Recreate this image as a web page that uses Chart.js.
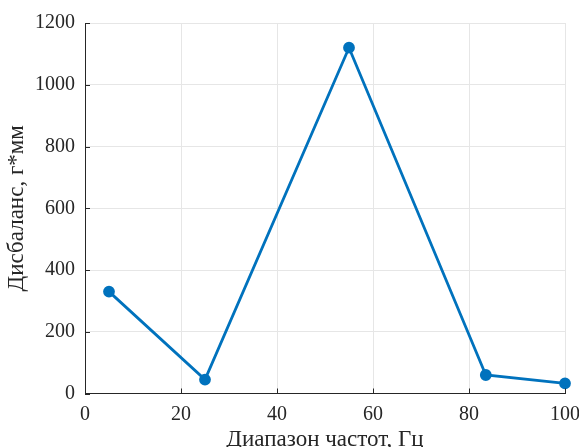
<!DOCTYPE html>
<html>
<head>
<meta charset="utf-8">
<script src="https://cdn.jsdelivr.net/npm/chart.js@4"></script>
<style>
  html, body { margin: 0; padding: 0; background: #fff; overflow: hidden; }
  #wrap { width: 579px; height: 454px; }
</style>
</head>
<body>
<div id="wrap"><canvas id="chart"></canvas></div>
<script>
const freq = [5, 25, 55, 83.5, 100];
const imbalance = [330, 45, 1120, 60, 33];
const xTicks = [0, 20, 40, 60, 80, 100];
const yTicks = [0, 200, 400, 600, 800, 1000, 1200];

const serif = "'Liberation Serif', 'Times New Roman', serif";

// MATLAB-like inward ticks
const inwardTicks = {
  id: 'inwardTicks',
  afterDatasetsDraw(chart) {
    const { ctx, chartArea, scales } = chart;
    ctx.save();
    ctx.strokeStyle = '#262626';
    ctx.lineWidth = 1;
    ctx.beginPath();
    xTicks.forEach(v => {
      const x = Math.round(scales.x.getPixelForValue(v)) + 0.5;
      ctx.moveTo(x, chartArea.bottom);
      ctx.lineTo(x, chartArea.bottom - 5);
    });
    yTicks.forEach(v => {
      const y = Math.round(scales.y.getPixelForValue(v)) + 0.5;
      ctx.moveTo(chartArea.left, y);
      ctx.lineTo(chartArea.left + 5, y);
    });
    ctx.stroke();
    ctx.restore();
  }
};

new Chart(document.getElementById('chart'), {
  type: 'line',
  data: {
    datasets: [{
      data: freq.map((f, i) => ({ x: f, y: imbalance[i] })),
      borderColor: '#0072BD',
      backgroundColor: '#0072BD',
      borderWidth: 2.8,
      pointRadius: 4.5,
      pointHoverRadius: 4.5,
      tension: 0,
      fill: false,
      clip: false
    }]
  },
  options: {
    responsive: true,
    maintainAspectRatio: false,
    animation: false,
    layout: { padding: { top: 23, right: 0, left: 3, bottom: 0 } },
    plugins: { legend: { display: false }, tooltip: { enabled: false } },
    scales: {
      x: {
        type: 'linear',
        min: 0, max: 100,
        afterBuildTicks: s => { s.ticks = xTicks.map(v => ({ value: v })); },
        afterFit: s => { s.height = 60.5; s.paddingRight = 14; s.paddingLeft = 0; },
        grid: { color: '#e6e6e6', drawTicks: false },
        border: { color: '#262626', width: 1 },
        ticks: { color: '#262626', padding: 9, font: { family: serif, size: 20 }, callback: v => String(v) },
        title: { display: true, text: 'Диапазон частот, Гц', color: '#262626', padding: { top: 0, bottom: 0 }, font: { family: serif, size: 23 } }
      },
      y: {
        min: 0, max: 1200,
        afterBuildTicks: s => { s.ticks = yTicks.map(v => ({ value: v })); },
        afterFit: s => { s.width = 82; s.paddingTop = 0; s.paddingBottom = 0; },
        grid: { color: '#e6e6e6', drawTicks: false },
        border: { color: '#262626', width: 1 },
        ticks: { color: '#262626', padding: 10, font: { family: serif, size: 20 }, callback: v => String(v) },
        title: { display: true, text: 'Дисбаланс, г*мм', color: '#262626', padding: { top: 0, bottom: 5 }, font: { family: serif, size: 23 } }
      }
    }
  },
  plugins: [inwardTicks]
});
</script>
</body>
</html>
